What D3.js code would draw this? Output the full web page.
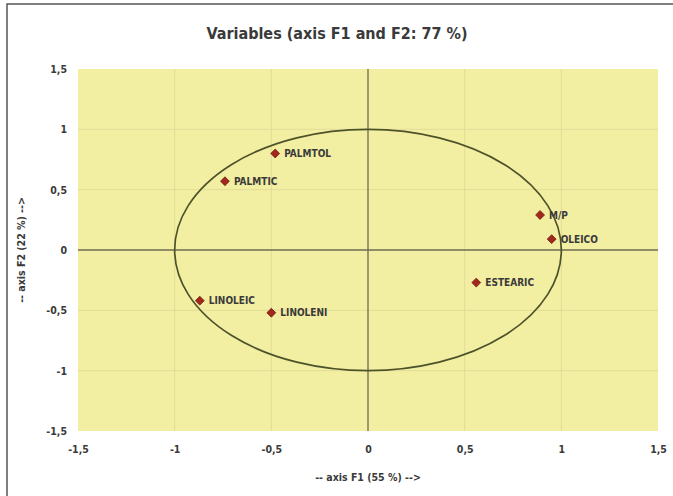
<!DOCTYPE html>
<html>
<head>
<meta charset="utf-8">
<script src="https://cdn.jsdelivr.net/npm/d3@7"></script>
<style>
body { margin: 0; background: #fff; }
text { font-family: "DejaVu Sans Condensed", "Liberation Sans Narrow", sans-serif; fill: #3a3a3a; }
</style>
</head>
<body>
<svg id="chart" width="673" height="496"></svg>
<script>
// variables on the correlation circle
var names = ['PALMTOL', 'PALMTIC', 'LINOLEIC', 'LINOLENI', 'ESTEARIC', 'M/P', 'OLEICO'];
var f1 = [-0.48, -0.74, -0.87, -0.50, 0.56, 0.89, 0.95];
var f2 = [0.80, 0.57, -0.42, -0.52, -0.27, 0.29, 0.09];
var ticks = [-1.5, -1, -0.5, 0, 0.5, 1, 1.5];

var svg = d3.select('#chart');

// outer frame
svg.append('rect')
	.attr('x', 7).attr('y', 4)
	.attr('width', 700).attr('height', 520)
	.attr('fill', 'none')
	.attr('stroke', '#555')
	.attr('stroke-width', 1.5);

var pLeft = 78, pRight = 658, pTop = 69, pBottom = 431;

var x = d3.scaleLinear().domain([-1.5, 1.5]).range([pLeft, pRight]);
var y = d3.scaleLinear().domain([-1.5, 1.5]).range([pBottom, pTop]);
var fmt = function(d) { return String(d).replace('.', ','); };

svg.append('rect')
	.attr('x', pLeft).attr('y', pTop)
	.attr('width', pRight - pLeft).attr('height', pBottom - pTop)
	.attr('fill', '#f2eea2');

// faint grid
var inner = ticks.filter(function(d){ return d != 0 && Math.abs(d) != 1.5; });
svg.append('g')
	.selectAll('line')
	.data(inner)
	.enter().append('line')
	.attr('x1', function(d){ return x(d); }).attr('x2', function(d){ return x(d); })
	.attr('y1', pTop).attr('y2', pBottom)
	.attr('stroke', '#e2dc98').attr('stroke-width', 1);
svg.append('g')
	.selectAll('line')
	.data(inner)
	.enter().append('line')
	.attr('y1', function(d){ return y(d); }).attr('y2', function(d){ return y(d); })
	.attr('x1', pLeft).attr('x2', pRight)
	.attr('stroke', '#e2dc98').attr('stroke-width', 1);

// zero axes
svg.append('line')
	.attr('x1', x(0)).attr('x2', x(0)).attr('y1', pTop).attr('y2', pBottom)
	.attr('stroke', '#6f6b50').attr('stroke-width', 1.3);
svg.append('line')
	.attr('x1', pLeft).attr('x2', pRight).attr('y1', y(0)).attr('y2', y(0))
	.attr('stroke', '#6f6b50').attr('stroke-width', 1.3);

// tick labels
var xAxis = d3.axisBottom(x).tickValues(ticks).tickFormat(fmt).tickSize(0).tickPadding(15);
var yAxis = d3.axisLeft(y).tickValues(ticks).tickFormat(fmt).tickSize(0).tickPadding(11);
var gx = svg.append('g').attr('transform', 'translate(0,' + pBottom + ')').call(xAxis);
var gy = svg.append('g').attr('transform', 'translate(' + pLeft + ',0)').call(yAxis);
[gx, gy].forEach(function(g){
	g.select('.domain').remove();
	g.selectAll('text')
		.attr('font-size', 10.5)
		.attr('font-weight', 'bold')
		.attr('fill', '#444')
		.style('font-family', '"DejaVu Sans Condensed", sans-serif');
});

// correlation circle
svg.append('ellipse')
	.attr('cx', x(0)).attr('cy', y(0))
	.attr('rx', x(1) - x(0)).attr('ry', y(0) - y(1))
	.attr('fill', 'none')
	.attr('stroke', '#4d522a')
	.attr('stroke-width', 1.7);

// points
var pts = names.map(function(n, i){ return {name: n, f1: f1[i], f2: f2[i]}; });
var g = svg.append('g');
g.selectAll('path')
	.data(pts)
	.enter().append('path')
	.attr('d', d3.symbol().type(d3.symbolDiamond2).size(50))
	.attr('transform', function(d){ return 'translate(' + x(d.f1) + ',' + y(d.f2) + ')'; })
	.attr('fill', '#a3281c')
	.attr('stroke', '#6e1a12')
	.attr('stroke-width', 0.8);
g.selectAll('text')
	.data(pts)
	.enter().append('text')
	.attr('x', function(d){ return x(d.f1) + 9; })
	.attr('y', function(d){ return y(d.f2) + 3.5; })
	.attr('font-size', 10)
	.attr('font-weight', 'bold')
	.attr('fill', '#3a3a3a')
	.text(function(d){ return d.name; });

// titles
svg.append('text')
	.attr('x', 337).attr('y', 39)
	.attr('text-anchor', 'middle')
	.attr('font-size', 16)
	.attr('font-weight', 'bold')
	.attr('fill', '#2a2a2a')
	.text('Variables (axis F1 and F2: 77 %)');
svg.append('text')
	.attr('x', x(0)).attr('y', 481)
	.attr('text-anchor', 'middle')
	.attr('font-size', 10.5)
	.attr('font-weight', 'bold')
	.attr('fill', '#444')
	.text('-- axis F1 (55 %) -->');
svg.append('text')
	.attr('transform', 'translate(25,' + y(0) + ') rotate(-90)')
	.attr('text-anchor', 'middle')
	.attr('font-size', 10.5)
	.attr('font-weight', 'bold')
	.attr('fill', '#444')
	.text('-- axis F2 (22 %) -->');
</script>
</body>
</html>
